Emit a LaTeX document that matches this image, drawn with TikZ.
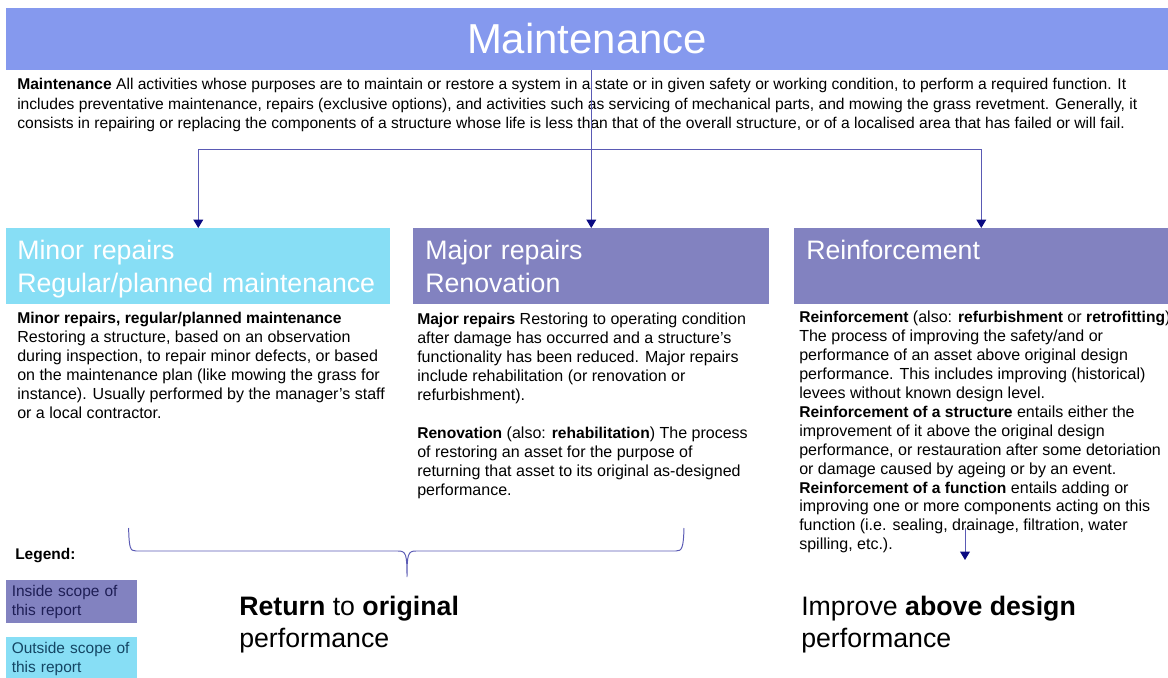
\documentclass[tikz,border=0pt]{standalone}
\usepackage{fontspec}
\setmainfont{Liberation Sans}
\usetikzlibrary{arrows.meta}

\definecolor{titlebar}{RGB}{133,153,238}
\definecolor{inside}{RGB}{130,130,192}
\definecolor{outside}{RGB}{135,222,245}
\definecolor{insidetext}{RGB}{30,30,85}
\definecolor{outsidetext}{RGB}{20,70,100}
\definecolor{linecol}{RGB}{90,90,180}
\definecolor{tipcol}{RGB}{10,10,130}

% bold terms in the descriptions run a little narrower
\newcommand{\term}[1]{{\fontsize{11.1}{13.45}\selectfont\bfseries #1}}

\begin{document}
\begin{tikzpicture}[x=1cm,y=1cm,
  conn/.style={draw=linecol,line width=0.7pt,-{Triangle[width=7pt,length=6pt,color=tipcol]}},
  head/.style={rectangle,anchor=north west,text=white,align=left,inner ysep=0pt,
    text height=14pt,text depth=23.4pt,minimum height=1.9cm,font=\fontsize{19}{23.4}\selectfont},
  desc/.style={anchor=north west,inner sep=0pt,align=left,font=\fontsize{11.4}{13.45}\selectfont},
  key/.style={rectangle,anchor=north west,align=left,inner xsep=0.1375cm,inner ysep=0pt,
    text width=3cm,minimum height=1.075cm,font=\fontsize{11}{13.5}\selectfont},
  big/.style={anchor=north west,inner sep=0pt,align=left,font=\fontsize{19}{22.7}\selectfont}]
\useasboundingbox (0,0) rectangle (29.2,-16.95);

% top bar and definition
\node[fill=titlebar,minimum width=29.05cm,minimum height=1.55cm,inner sep=0pt,
  text=white,font=\fontsize{29.8}{32}\selectfont] (title) at (14.675,-0.975) {Maintenance};
\node[desc,font=\fontsize{11.1}{13.9}\selectfont] (intro) at (0.425,-1.95)
  {\textbf{Maintenance} All activities whose purposes are to maintain or restore a system in a state or in given safety or working condition, to perform a required function. It\\
   includes preventative maintenance, repairs (exclusive options), and activities such as servicing of mechanical parts, and mowing the grass revetment. Generally, it\\
   consists in repairing or replacing the components of a structure whose life is less than that of the overall structure, or of a localised area that has failed or will fail.};

% the three kinds of work
\node[head,fill=outside,text width=9.05cm,inner xsep=0.275cm] (minor) at (0.15,-5.7)
  {Minor repairs\\Regular/planned maintenance};
\node[head,fill=inside,text width=8.3cm,inner xsep=0.3cm] (major) at (10.325,-5.7)
  {Major repairs\\Renovation};
\node[head,fill=inside,text width=8.75cm,inner xsep=0.3cm] (reinf) at (19.85,-5.7)
  {Reinforcement};

\coordinate (split) at (major.north |- 0,-3.725);
\draw[conn] (title.south -| major.north) -- (major.north);
\draw[conn] (split) -| (minor.north);
\draw[conn] (split) -| (reinf.north);

\node[desc] (minortxt) at (0.425,-7.8)
  {\term{Minor repairs, regular/planned maintenance}\\
   Restoring a structure, based on an observation\\
   during inspection, to repair minor defects, or based\\
   on the maintenance plan (like mowing the grass for\\
   instance). Usually performed by the manager's staff\\
   or a local contractor.};

\node[desc] (majortxt) at (10.425,-7.825)
  {\term{Major repairs} Restoring to operating condition\\
   after damage has occurred and a structure's\\
   functionality has been reduced. Major repairs\\
   include rehabilitation (or renovation or\\
   refurbishment).\\[13.45pt]
   \term{Renovation} (also: \term{rehabilitation}) The process\\
   of restoring an asset for the purpose of\\
   returning that asset to its original as-designed\\
   performance.};

\node[desc] (reinftxt) at (19.975,-7.775)
  {\term{Reinforcement} (also: \term{refurbishment} or \term{retrofitting})\\
   The process of improving the safety/and or\\
   performance of an asset above original design\\
   performance. This includes improving (historical)\\
   levees without known design level.\\
   \term{Reinforcement of a structure} entails either the\\
   improvement of it above the original design\\
   performance, or restauration after some detoriation\\
   or damage caused by ageing or by an event.\\
   \term{Reinforcement of a function} entails adding or\\
   improving one or more components acting on this\\
   function (i.e. sealing, drainage, filtration, water\\
   spilling, etc.).};

% brace under minor + major
\draw[linecol,line width=0.7pt]
  (3.215,-13.2) .. controls (3.23,-13.7) and (3.25,-13.775) .. (3.4,-13.775)
  -- (9.95,-13.775) .. controls (10.15,-13.775) and (10.175,-13.85) .. (10.175,-14.425)
  .. controls (10.175,-13.85) and (10.2,-13.775) .. (10.4,-13.775)
  -- (16.9,-13.775) .. controls (17.05,-13.775) and (17.085,-13.7) .. (17.1,-13.2);

\coordinate (up) at (24.125,-13.2);
\coordinate (down) at (24.125,-14.0);
\draw[conn] (up) -- (down);

\node[big] (back) at (5.975,-14.9) {\textbf{Return} to \textbf{original}\\performance};
\node[big] (improve) at (20.025,-14.9) {Improve \textbf{above design}\\performance};

% legend
\node[anchor=west,inner sep=0pt,font=\fontsize{11}{13.4}\selectfont\bfseries] (legend) at (0.375,-13.9) {Legend:};
\node[key,fill=inside,text=insidetext] (keyin) at (0.15,-14.5) {Inside scope of\\this report};
\node[key,fill=outside,text=outsidetext] (keyout) at (0.15,-15.925) {Outside scope of\\this report};
\end{tikzpicture}
\end{document}
